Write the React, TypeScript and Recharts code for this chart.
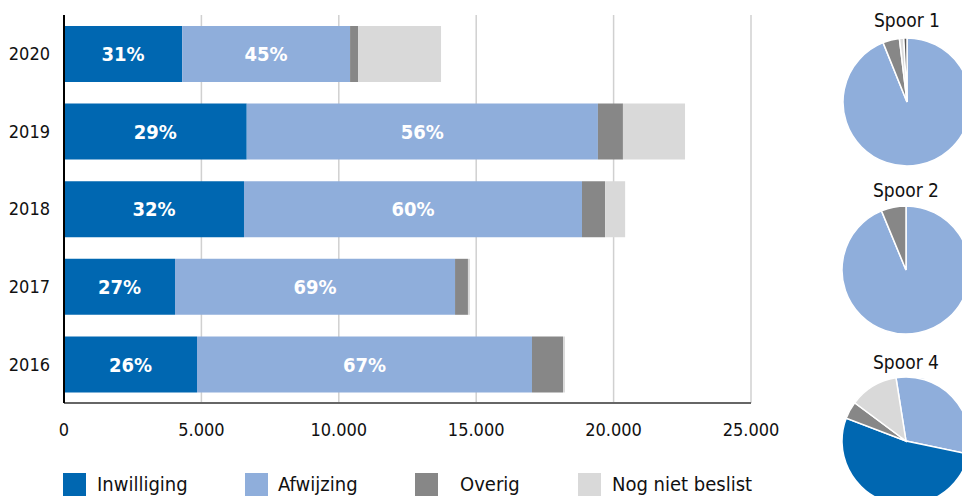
import { BarChart, Bar, XAxis, YAxis, CartesianGrid, LabelList, PieChart, Pie, Cell } from 'recharts';

const FONT = '"DejaVu Sans Condensed", "DejaVu Sans", sans-serif';

const COLORS = {
  inwilliging: '#0067B1',
  afwijzing: '#8FAEDB',
  overig: '#878787',
  nog: '#D9D9D9',
};

const years = ['2020', '2019', '2018', '2017', '2016'];
const inwilliging = [4300, 6650, 6550, 4040, 4840];
const afwijzing = [6110, 12780, 12300, 10190, 12190];
const overig = [290, 910, 840, 470, 1130];
const nogNietBeslist = [3020, 2260, 730, 70, 70];
const pctInwilliging = ['31%', '29%', '32%', '27%', '26%'];
const pctAfwijzing = ['45%', '56%', '60%', '69%', '67%'];
const xTicks = [0, 5000, 10000, 15000, 20000, 25000];

const legendItems = [
  { name: 'Inwilliging', color: COLORS.inwilliging, x: 63, tx: 97 },
  { name: 'Afwijzing', color: COLORS.afwijzing, x: 245, tx: 278 },
  { name: 'Overig', color: COLORS.overig, x: 415, tx: 460 },
  { name: 'Nog niet beslist', color: COLORS.nog, x: 578, tx: 612 },
];

// pie slices listed clockwise as they appear
const spoor1 = [
  { name: 'Afwijzing', value: 93.9, color: COLORS.afwijzing },
  { name: 'Overig', value: 4.2, color: COLORS.overig },
  { name: 'Nog niet beslist', value: 1.1, color: COLORS.nog },
  { name: 'Inwilliging', value: 0.8, color: '#555555' },
];
const spoor2 = [
  { name: 'Afwijzing', value: 93.75, color: COLORS.afwijzing },
  { name: 'Overig', value: 6.25, color: COLORS.overig },
];
const spoor4 = [
  { name: 'Afwijzing', value: 30.8, color: COLORS.afwijzing },
  { name: 'Inwilliging', value: 52.5, color: COLORS.inwilliging },
  { name: 'Overig', value: 4.4, color: COLORS.overig },
  { name: 'Nog niet beslist', value: 12.3, color: COLORS.nog },
];

const data = years.map((year, i) => ({
  year,
  inwilliging: inwilliging[i],
  afwijzing: afwijzing[i],
  overig: overig[i],
  nog: nogNietBeslist[i],
  pctInw: pctInwilliging[i],
  pctAfw: pctAfwijzing[i],
}));

const fmt = (v: number) => v.toLocaleString('de-DE');

const textBase = { fontFamily: FONT, fontStretch: 'condensed' as const };
const labelStyle = { fill: '#fff', fontSize: 20, fontWeight: 700, ...textBase };

const pies = [
  { title: 'Spoor 1', data: spoor1, cx: 907, cy: 102, ty: 8, start: 90 },
  { title: 'Spoor 2', data: spoor2, cx: 906, cy: 270, ty: 178, start: 90 },
  { title: 'Spoor 4', data: spoor4, cx: 906, cy: 441, ty: 350, start: 99 },
];

const App = () => {
  return (
    <div style={{ position: 'absolute', left: 0, top: 0, width: 962, height: 496, overflow: 'hidden', background: '#fff', ...textBase }}>
      <BarChart
        width={800}
        height={440}
        data={data}
        layout="vertical"
        margin={{ top: 15, right: 49, bottom: 0, left: 0 }}
        barSize={56}
      >
        <CartesianGrid horizontal={false} stroke="#d0d0d0" strokeWidth={1.5} />
        <XAxis
          type="number"
          domain={[0, 25000]}
          ticks={xTicks}
          tickFormatter={fmt}
          axisLine={{ stroke: '#666', strokeWidth: 2 }}
          tickLine={false}
          tickMargin={14}
          height={37}
          tick={{ fill: '#111', fontSize: 18, ...textBase }}
        />
        <YAxis
          type="category"
          dataKey="year"
          width={64}
          axisLine={{ stroke: '#000', strokeWidth: 2 }}
          tickLine={false}
          tickMargin={8}
          tick={{ fill: '#111', fontSize: 18, ...textBase }}
        />
        <Bar dataKey="inwilliging" stackId="a" fill={COLORS.inwilliging} isAnimationActive={false}>
          <LabelList dataKey="pctInw" position="center" style={labelStyle} />
        </Bar>
        <Bar dataKey="afwijzing" stackId="a" fill={COLORS.afwijzing} isAnimationActive={false}>
          <LabelList dataKey="pctAfw" position="center" style={labelStyle} />
        </Bar>
        <Bar dataKey="overig" stackId="a" fill={COLORS.overig} isAnimationActive={false} />
        <Bar dataKey="nog" stackId="a" fill={COLORS.nog} isAnimationActive={false} />
      </BarChart>

      {legendItems.map((item) => (
        <div key={item.name}>
          <div style={{ position: 'absolute', left: item.x, top: 473, width: 23, height: 23, background: item.color }} />
          <div style={{ position: 'absolute', left: item.tx, top: 471, fontSize: 20, color: '#111', lineHeight: '26px' }}>{item.name}</div>
        </div>
      ))}

      <div style={{ position: 'absolute', left: 0, top: 0 }}>
        <PieChart width={962} height={496} margin={{ top: 0, right: 0, bottom: 0, left: 0 }}>
          {pies.map((p) => (
            <Pie
              key={p.title}
              data={p.data}
              dataKey="value"
              cx={p.cx}
              cy={p.cy}
              outerRadius={64}
              startAngle={p.start}
              endAngle={p.start - 360}
              stroke="#fff"
              strokeWidth={1.5}
              isAnimationActive={false}
            >
              {p.data.map((d, i) => (
                <Cell key={`c-${i}`} fill={d.color} />
              ))}
            </Pie>
          ))}
        </PieChart>
      </div>

      {pies.map((p) => (
        <div key={p.title} style={{ position: 'absolute', left: p.cx - 60, width: 120, top: p.ty, textAlign: 'center', fontSize: 19, color: '#111', lineHeight: '24px' }}>
          {p.title}
        </div>
      ))}
    </div>
  );
};

export default App;
